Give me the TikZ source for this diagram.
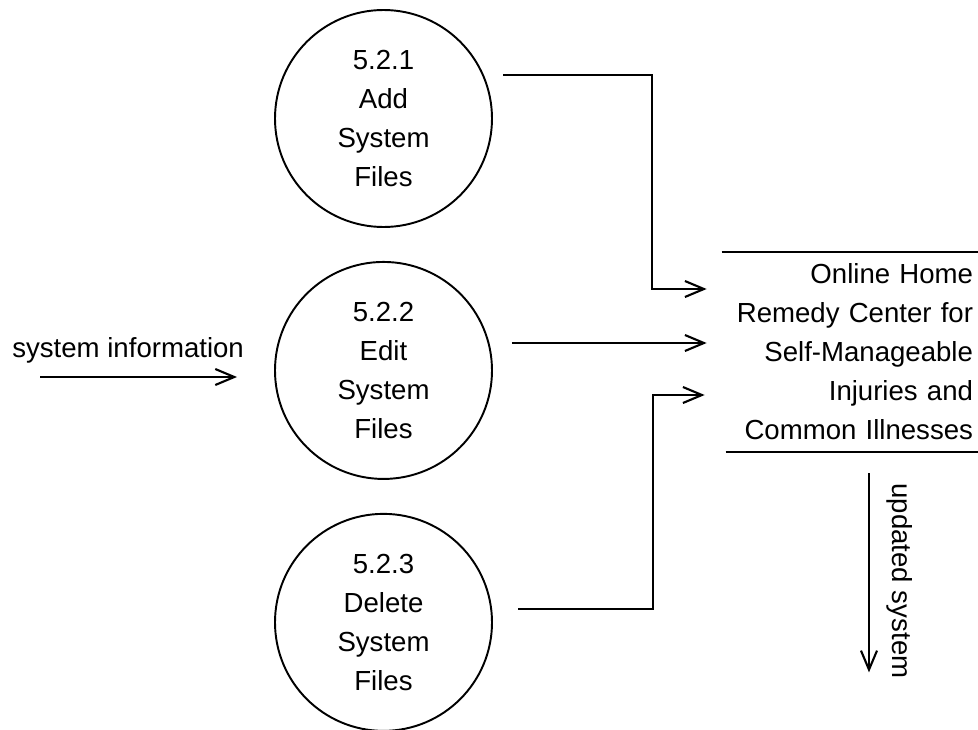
\documentclass[tikz,border=0pt]{standalone}
\usepackage{fontspec}
\setmainfont{Liberation Sans}
\usetikzlibrary{arrows.meta, positioning, calc}

\begin{document}
\begin{tikzpicture} [font=\fontsize{15.7}{22.2}\selectfont,
        process/.style = {circle, draw, line width=1.1pt, minimum size=4.34cm, inner sep=0pt, align=center},
        flow/.style = {-{Straight Barb[length=0.38cm, width=0.32cm]}, line width=1.2pt}]
        \useasboundingbox (0,0) rectangle (19.56,-14.6);

        \node (p1) [process] at (7.67,-2.37) {5.2.1\\Add\\System\\Files};
        \node (p2) [process, below = 0.66cm of p1] {5.2.2\\Edit\\System\\Files};
        \node (p3) [process, below = 0.66cm of p2] {5.2.3\\Delete\\System\\Files};

        \node (store) [minimum width=5.12cm, minimum height=4cm, text width=4.92cm, align=right, inner xsep=0.1cm, inner ysep=0pt] at (17.0,-7.04)
            {Online Home\\Remedy Center for\\Self-Manageable\\Injuries and\\Common Illnesses};
        \draw [line width=1.1pt] (store.north west) -- (store.north east);
        \draw [line width=1.1pt] ([xshift=0.08cm]store.south west) -- (store.south east);

        % free ends of the flows
        \coordinate (i1) at ($(store.west)+(-0.3,1.26)$);
        \coordinate (i2) at ($(store.west)+(-0.3,0.18)$);
        \coordinate (i3) at ($(store.west)+(-0.34,-0.86)$);
        \coordinate (o1) at ($(p1.center)+(2.39,0.87)$);
        \coordinate (o2) at ($(p2.east |- i2)+(0.38,0)$);
        \coordinate (o3) at ($(p3.center)+(2.69,0.26)$);
        \coordinate (src) at (0.8,-7.54);
        \coordinate (in2) at (4.74,-7.54);
        \coordinate (out) at ($(store.south)+(0.38,-0.42)$);
        \coordinate (sink) at ($(out)+(0,-3.98)$);

        \draw [flow] (o1) -- ++(2.98,0) |- (i1);
        \draw [flow] (o2) -- (i2);
        \draw [flow] (o3) -- ++(2.7,0) |- (i3);

        \draw [flow] (src) -- (in2);
        \node (sysinfo) [anchor=base west, inner sep=0pt] at (0.24,-7.14) {system information};

        \draw [flow] (out) -- (sink);
        \node (upd) [rotate=-90, inner sep=0pt] at (18.0,-11.62) {updated system};
    \end{tikzpicture}
\end{document}
